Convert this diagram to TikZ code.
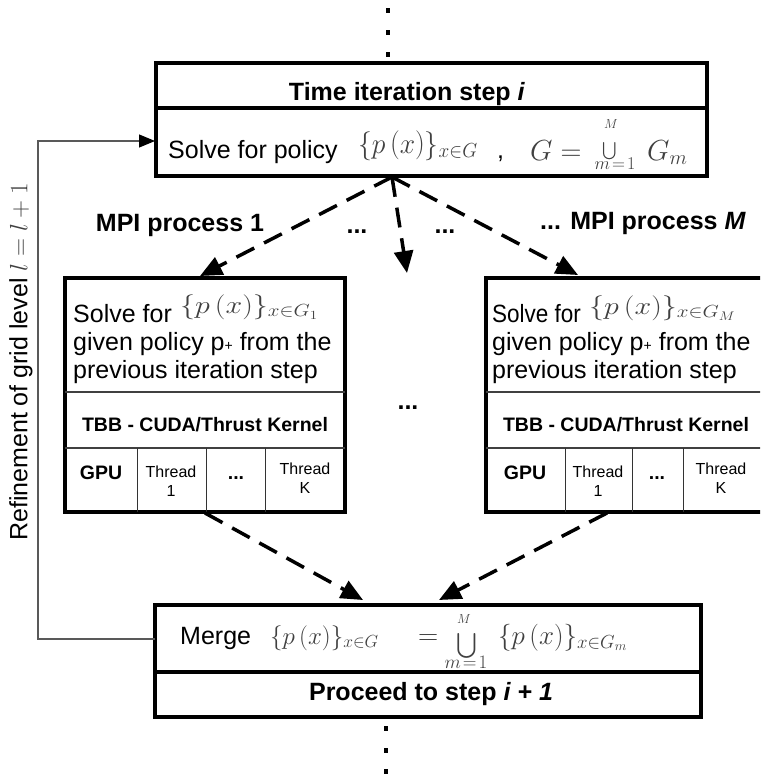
\RequirePackage{fix-cm}
\documentclass[tikz,border=0pt]{standalone}
\usepackage{fontspec}
\usepackage{exscale}
\usepackage{graphicx}
\setmainfont{Liberation Sans}
\usetikzlibrary{arrows.meta}
\definecolor{mathc}{gray}{0.25}
\newcommand\tsz{\fontsize{25}{30}\selectfont}
\newcommand\tszb{\fontsize{25}{30}\selectfont\bfseries}
\newcommand\msz{\fontsize{19.5}{23}\selectfont\bfseries}
\newcommand\ssz{\fontsize{16}{19}\selectfont}
\newcommand\mfs[1]{\fontsize{#1}{#1}\selectfont}
\tikzset{
  bigbox/.style={draw, line width=3.5pt, inner sep=0pt, outer sep=0pt},
  divline/.style={line width=1.3pt, draw=black!75},
  cellline/.style={line width=0.9pt, draw=black!80},
  thickdiv/.style={line width=3.5pt},
  dasharrow/.style={line width=3.5pt, dash pattern=on 20pt off 11pt, -{Triangle[length=22pt,width=19pt]}},
  fbline/.style={line width=1.2pt, draw=black!65, -{Triangle[length=16pt,width=13pt,fill=black,color=black]}},
  txt/.style={inner sep=0pt, font=\tsz},
  mth/.style={inner sep=0pt, text=mathc},
  celltxt/.style={inner sep=0pt, font=\ssz, align=center},
}
\begin{document}
\begin{tikzpicture}[x=1pt,y=-1pt]
\useasboundingbox (0,0) rectangle (760,776);
\clip (0,0) rectangle (760,776);
% dots
\foreach \yy in {11,33,55} \fill (386,\yy-2.5) rectangle (390,\yy+2.5);
\foreach \yy in {728,750,771} \fill (384,\yy-2.5) rectangle (388,\yy+2.5);
% top box
\node[bigbox, minimum width=551pt, minimum height=113pt, anchor=north west] (top) at (156,63) {};
\draw[thickdiv] (156,108) -- (707,108);
\node[txt, font=\tszb, anchor=base] (toptitle) at (407,100) {Time iteration step \textit{i}};
\node[txt, anchor=base west] (toprow) at (168,158) {Solve for policy};
\node[mth, anchor=base west] (topm1) at (358,153) {\scalebox{0.95}[1]{\mfs{29}$\{p\left(x\right)\}_{x\in G}$}};
\node[txt, anchor=base west] (topcomma) at (497,158) {,};
\node[mth, anchor=base west] (topG) at (530,160) {\mfs{29}$G=$};
\node[mth] (topcup) at (610,151) {\mfs{18}$\bigcup$};
\node[mth] (topM) at (611,124) {\mfs{13}$M$};
\node[mth] (topm) at (615,164) {\mfs{18}$m\!=\!1$};
\node[mth, anchor=base west] (topGm) at (647,160) {\mfs{29}$G_m$};
% left panel
\node[bigbox, minimum width=280pt, minimum height=234pt, anchor=north west] (p1) at (65,278) {};
\draw[divline] (65,392) -- (345,392);
\draw[divline] (65,448) -- (345,448);
\draw[cellline] (137,448) -- (137,512);
\draw[cellline] (206,448) -- (206,512);
\draw[cellline] (265,448) -- (265,512);
\node[txt, anchor=base west] (p1l1) at (73,322) {Solve for};
\node[mth, anchor=base west] (p1m) at (180,313) {\scalebox{1.2}[1]{\mfs{25}$\{p\left(x\right)\}_{x\in G_1}$}};
\node[txt, anchor=base west] (p1l2) at (73,350) {given policy p{\fontsize{14}{14}\selectfont +} from the};
\node[txt, anchor=base west] (p1l3) at (73,378) {previous iteration step};
\node[inner sep=0pt, font=\msz] (p1k) at (205,425) {TBB - CUDA/Thrust Kernel};
\node[inner sep=0pt, font=\msz] (p1g) at (101,473) {GPU};
\node[celltxt] (p1t1) at (171,481) {Thread\\1};
\node[inner sep=0pt, font=\msz] (p1d) at (236,478) {...};
\node[celltxt] (p1tk) at (305,478) {Thread\\K};
% right panel
\node[bigbox, minimum width=280pt, minimum height=234pt, anchor=north west] (pM) at (486,278) {};
\draw[divline] (486,392) -- (766,392);
\draw[divline] (486,448) -- (766,448);
\draw[cellline] (565,448) -- (565,512);
\draw[cellline] (632,448) -- (632,512);
\draw[cellline] (683,448) -- (683,512);
\node[txt, anchor=base west] (pMl1) at (492,322) {\scalebox{0.9}[1]{Solve for}};
\node[mth, anchor=base west] (pMm) at (589,314) {\scalebox{1.2}[1]{\mfs{25}$\{p\left(x\right)\}_{x\in G_M}$}};
\node[txt, anchor=base west] (pMl2) at (492,350) {given policy p{\fontsize{14}{14}\selectfont +} from the};
\node[txt, anchor=base west] (pMl3) at (492,378) {previous iteration step};
\node[inner sep=0pt, font=\msz] (pMk) at (626,425) {TBB - CUDA/Thrust Kernel};
\node[inner sep=0pt, font=\msz] (pMg) at (525,473) {GPU};
\node[celltxt] (pMt1) at (598,481) {Thread\\1};
\node[inner sep=0pt, font=\msz] (pMd) at (657,478) {...};
\node[celltxt] (pMtk) at (721,478) {Thread\\K};
% middle dots
\node[inner sep=0pt, font=\tszb] (middots) at (408,408) {...};
% labels
\node[inner sep=0pt, font=\tszb] (lab1) at (180,225) {MPI process 1};
\node[inner sep=0pt, font=\tszb] (labd1) at (357,232) {...};
\node[inner sep=0pt, font=\tszb] (labd2) at (445,232) {...};
\node[inner sep=0pt, font=\tszb] (labM) at (643,223) {... MPI process \textit{M}};
% bottom box
\node[bigbox, minimum width=546pt, minimum height=112pt, anchor=north west] (bot) at (155,605) {};
\draw[thickdiv] (155,672) -- (701,672);
\node[txt, anchor=base west] (merge) at (180,644) {Merge};
\node[mth, anchor=base west] (mm1) at (270,644) {\mfs{25}$\{p\left(x\right)\}_{x\in G}$};
\node[mth, anchor=base west] (meq) at (418,644) {\mfs{28}$=$};
\node[mth] (mcup) at (467,646) {\mfs{24}$\bigcup$};
\node[mth] (mM) at (464,619) {\mfs{13}$M$};
\node[mth] (mm) at (466,662) {\mfs{19}$m\!=\!1$};
\node[mth, anchor=base west] (mm2) at (498,644) {\mfs{27}$\{p\left(x\right)\}_{x\in G_m}$};
\node[txt, font=\tszb, anchor=base] (proceed) at (431,700) {Proceed to step \textit{i + 1}};
% feedback
\node[txt, rotate=90] (reflabel) at (21,362) {Refinement of grid level \textcolor{mathc}{$l=l+1$}};
\coordinate (fbstart) at (155,639);
\coordinate (fbcorner) at (38,141);
\coordinate (fbend) at (155,141);
\draw[fbline] (fbstart) -| (fbcorner) -- (fbend);
% arrows
\coordinate (topout) at (392,177);
\coordinate (t1) at (200,276);
\coordinate (tmid) at (407,273);
\coordinate (tM) at (578,275);
\draw[dasharrow] (topout) -- (t1);
\draw[dasharrow] (topout) -- (tmid);
\draw[dasharrow] (topout) -- (tM);
\coordinate (b1) at (205,513);
\coordinate (bM) at (607,513);
\coordinate (bt1) at (363,600);
\coordinate (btM) at (439,600);
\draw[dasharrow] (b1) -- (bt1);
\draw[dasharrow] (bM) -- (btM);
\end{tikzpicture}
\end{document}
